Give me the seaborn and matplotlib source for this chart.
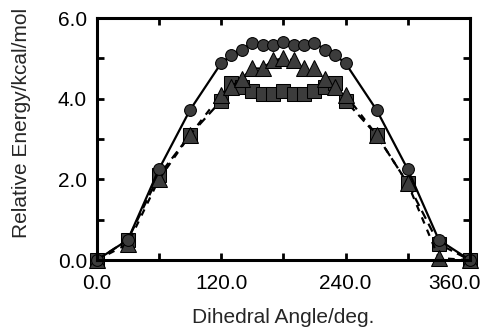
import matplotlib
matplotlib.use("Agg")
import matplotlib.pyplot as plt
import matplotlib.transforms as mtransforms
import seaborn as sns
import pandas as pd
from matplotlib.ticker import MultipleLocator, FormatStrFormatter

angles = [0, 30, 60, 90, 120, 130, 140, 150, 160, 170, 180, 190, 200, 210, 220, 230, 240, 270, 300, 330, 360]
circles = [0.0, 0.5, 2.25, 3.72, 4.88, 5.08, 5.22, 5.39, 5.33, 5.33, 5.40, 5.33, 5.33, 5.39, 5.22, 5.08, 4.88, 3.72, 2.25, 0.5, 0.0]
triangles = [0.0, 0.4, 2.0, 3.1, 4.1, 4.3, 4.5, 4.75, 4.75, 4.95, 5.0, 4.95, 4.75, 4.75, 4.5, 4.3, 4.1, 3.1, 1.9, 0.05, 0.0]
squares = [0.0, 0.5, 2.1, 3.1, 3.95, 4.4, 4.3, 4.2, 4.12, 4.12, 4.2, 4.12, 4.12, 4.2, 4.3, 4.4, 3.95, 3.1, 1.9, 0.4, 0.0]

xlabel = "Dihedral Angle/deg."
ylabel = "Relative Energy/kcal/mol"

sns.set_style("ticks")
plt.rcParams["font.family"] = ["Liberation Sans", "DejaVu Sans"]

fig = plt.figure(figsize=(4.81, 3.28), dpi=100)
ax = fig.add_axes([0.201, 0.207, 0.776, 0.738])

df = pd.DataFrame({"angle": angles, "circ": circles, "tri": triangles, "sq": squares})
fill = "#3c3c3c"
sns.lineplot(data=df, x="angle", y="sq", ax=ax, color="black", lw=1.6, linestyle=(0, (4, 2.5)),
             marker="s", markersize=10.5, markerfacecolor=fill, markeredgecolor="black", clip_on=False)
sns.lineplot(data=df, x="angle", y="tri", ax=ax, color="black", lw=1.6, linestyle=(0, (3, 3)),
             marker="^", markersize=11, markerfacecolor=fill, markeredgecolor="black", clip_on=False)
sns.lineplot(data=df, x="angle", y="circ", ax=ax, color="black", lw=1.6, linestyle="-",
             marker="o", markersize=8.5, markerfacecolor=fill, markeredgecolor="black", clip_on=False)

ax.set_xlim(0, 360)
ax.set_ylim(0, 6)
ax.xaxis.set_major_locator(MultipleLocator(120))
ax.xaxis.set_minor_locator(MultipleLocator(60))
ax.yaxis.set_major_locator(MultipleLocator(2))
ax.yaxis.set_minor_locator(MultipleLocator(1))
ax.xaxis.set_major_formatter(FormatStrFormatter("%.1f"))
ax.yaxis.set_major_formatter(FormatStrFormatter("%.1f"))
ax.tick_params(which="both", direction="in", top=True, right=True, width=2, colors="black",
               labelsize=15)
ax.tick_params(which="major", length=5)
ax.tick_params(which="minor", length=5)
ax.tick_params(axis="x", pad=10)
ax.tick_params(axis="y", pad=7)
for s in ax.spines.values():
    s.set_linewidth(2.2)
    s.set_color("black")
    s.set_visible(True)
ax.set_xlabel(xlabel, fontsize=15, labelpad=11)
ax.set_ylabel(ylabel, fontsize=15)
ax.yaxis.set_label_coords(-0.175, 0.566)

fig.canvas.draw()
labels = ax.get_xticklabels()
for lbl in labels:
    if lbl.get_text().startswith("360"):
        lbl.set_transform(lbl.get_transform() + mtransforms.ScaledTranslation(-15 / 100, 0, fig.dpi_scale_trans))

fig.savefig("out.png", dpi=100)
